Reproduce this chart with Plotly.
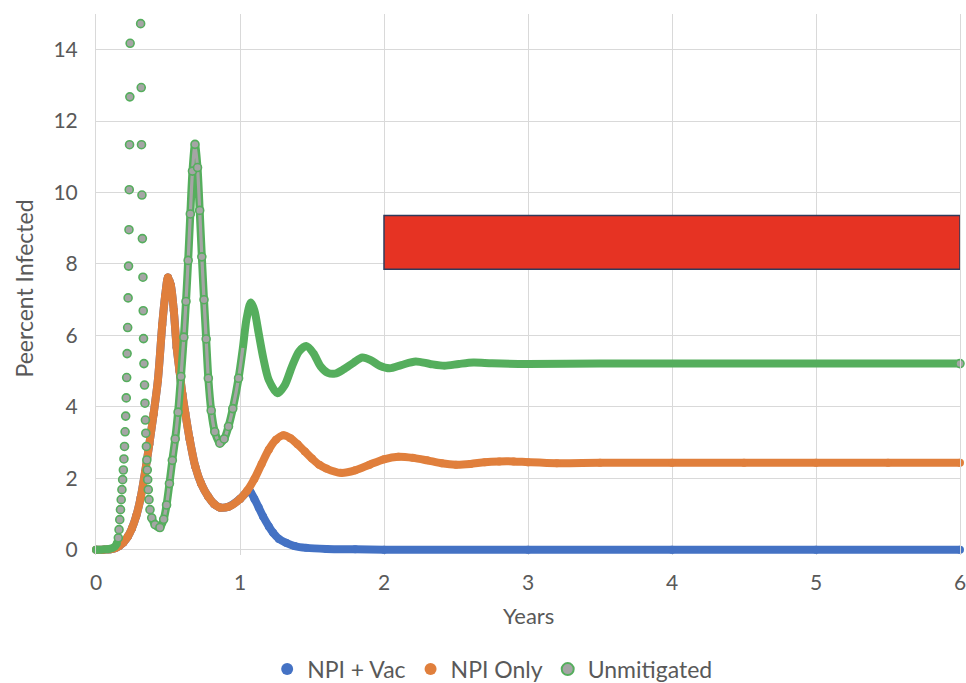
import plotly.graph_objects as go

# ---------------- data ----------------
# NPI + Vac (hidden under NPI Only before ~1.05 years)
vac_x = [0, 0.05, 0.1, 0.13, 0.16, 0.19, 0.22, 0.25, 0.28, 0.31, 0.34, 0.37, 0.40, 0.43, 0.46, 0.48,
         0.50, 0.52, 0.54, 0.56, 0.58, 0.60, 0.62, 0.65, 0.69, 0.73, 0.78, 0.82, 0.86, 0.92, 1.0, 1.05,
         1.07, 1.10, 1.13, 1.16, 1.20, 1.23, 1.27, 1.32, 1.38, 1.46, 1.6, 1.8, 2.0, 3.0, 4.0, 5.0, 6.0]
vac_y = [0, 0, 0.01, 0.04, 0.1, 0.2, 0.36, 0.6, 0.95, 1.45, 2.15, 2.95, 3.8, 4.75, 6.3, 7.1,
         7.62, 7.4, 6.7, 5.67, 5.0, 4.35, 3.83, 3.1, 2.32, 1.85, 1.48, 1.28, 1.18, 1.2, 1.42, 1.62,
         1.63, 1.42, 1.18, 0.93, 0.65, 0.47, 0.3, 0.19, 0.1, 0.05, 0.02, 0.01, 0.0, 0.0, 0.0, 0.0, 0.0]

# NPI Only
npi_x = [0, 0.05, 0.1, 0.13, 0.16, 0.19, 0.22, 0.25, 0.28, 0.31, 0.34, 0.37, 0.40, 0.43, 0.46, 0.48,
         0.50, 0.52, 0.54, 0.56, 0.58, 0.60, 0.62, 0.65, 0.69, 0.73, 0.78, 0.82, 0.86, 0.92, 1.0, 1.05,
         1.10, 1.15, 1.20, 1.25, 1.30, 1.35, 1.40, 1.45, 1.50, 1.55, 1.60, 1.70, 1.80, 1.90, 2.0, 2.1,
         2.2, 2.3, 2.4, 2.5, 2.6, 2.7, 2.8, 2.9, 3.0, 3.2, 3.5, 4.0, 4.5, 5.0, 5.5, 6.0]
npi_y = [0, 0, 0.01, 0.04, 0.1, 0.2, 0.36, 0.6, 0.95, 1.45, 2.15, 2.95, 3.8, 4.75, 6.3, 7.1,
         7.62, 7.4, 6.7, 5.67, 5.0, 4.35, 3.83, 3.1, 2.32, 1.85, 1.48, 1.28, 1.18, 1.2, 1.42, 1.65,
         1.98, 2.4, 2.8, 3.08, 3.2, 3.12, 2.95, 2.75, 2.55, 2.38, 2.27, 2.15, 2.22, 2.38, 2.53, 2.6,
         2.57, 2.5, 2.42, 2.38, 2.4, 2.45, 2.47, 2.47, 2.45, 2.42, 2.43, 2.43, 2.43, 2.43, 2.43, 2.43]

# Unmitigated (first peak goes above the 15% axis limit between ~0.24 and ~0.31 years)
unm_x = [0, 0.03, 0.06, 0.09, 0.11, 0.13, 0.145,
         0.155, 0.160, 0.165, 0.170, 0.175, 0.180, 0.185, 0.190, 0.194, 0.198, 0.202, 0.206, 0.210,
         0.213, 0.216, 0.220, 0.223, 0.226, 0.229, 0.231, 0.233, 0.235, 0.237,
         0.310, 0.314, 0.316, 0.319, 0.322, 0.326, 0.328, 0.330, 0.333, 0.337, 0.340, 0.343, 0.346,
         0.350, 0.353, 0.356, 0.359, 0.363, 0.368, 0.375, 0.387, 0.41, 0.444,
         0.47, 0.49, 0.51, 0.53, 0.55, 0.57, 0.59, 0.61, 0.625, 0.64, 0.655, 0.67, 0.6875, 0.705,
         0.72, 0.735, 0.75, 0.765, 0.78, 0.80, 0.825, 0.86, 0.89, 0.92, 0.95, 0.99,
         1.02, 1.045, 1.075, 1.10, 1.13, 1.16, 1.20, 1.26, 1.31, 1.36, 1.41, 1.46, 1.51, 1.56, 1.61,
         1.66, 1.72, 1.79, 1.85, 1.91, 1.97, 2.04, 2.12, 2.22, 2.32, 2.42, 2.52, 2.62, 2.75, 3.0,
         3.5, 4.0, 4.5, 5.0, 5.5, 6.0]
unm_y = [0, 0, 0.01, 0.02, 0.04, 0.08, 0.18,
         0.33, 0.56, 0.84, 1.12, 1.40, 1.68, 1.96, 2.23, 2.54, 2.89, 3.30, 3.74, 4.25,
         4.82, 5.49, 6.22, 7.05, 7.94, 8.96, 10.08, 11.34, 12.68, 14.18,
         14.73, 12.94, 11.34, 9.93, 8.71, 7.63, 6.69, 5.91, 5.21, 4.61, 4.10, 3.63, 3.26,
         2.89, 2.51, 2.23, 1.96, 1.68, 1.40, 1.12, 0.89, 0.70, 0.62,
         0.85, 1.25, 1.85, 2.5, 3.1, 3.85, 4.85, 5.95, 6.95, 8.1, 9.4, 10.6, 11.35, 10.7,
         9.5, 8.2, 7.0, 5.9, 4.8, 3.9, 3.3, 2.98, 3.1, 3.45, 3.95, 4.8,
         5.65, 6.45, 6.92, 6.7, 6.05, 5.4, 4.75, 4.38, 4.6, 5.12, 5.55, 5.7, 5.5, 5.13, 4.95,
         4.93, 5.05, 5.24, 5.38, 5.3, 5.15, 5.08, 5.17, 5.27, 5.2, 5.15, 5.2, 5.24, 5.22, 5.2,
         5.21, 5.21, 5.21, 5.21, 5.21, 5.21]

# red box drawn over the chart (years, percent)
box_x = [2.0, 6.0]
box_y = [7.85, 9.36]

y_ticks = [0, 2, 4, 6, 8, 10, 12, 14]
x_ticks = [0, 1, 2, 3, 4, 5, 6]

# ---------------- styling ----------------
BLUE = "#4472C4"
ORANGE = "#E07F3C"
GREEN = "#55AE5D"
GREY = "#A5A5A5"
GRID = "#D9D9D9"
FONT = "Lato"
TXT = "#595959"
LW = 8

fig = go.Figure()

def band(x, y, color, name):
    fig.add_trace(go.Scatter(x=x, y=y, mode="lines", line=dict(color=color, width=LW, shape="spline", smoothing=0.8),
                             showlegend=False, hoverinfo="skip"))
    fig.add_trace(go.Scatter(x=x, y=y, mode="markers", name=name,
                             marker=dict(color=color, size=LW, line=dict(width=0)), cliponaxis=False))

band(vac_x, vac_y, BLUE, "NPI + Vac")
band(npi_x, npi_y, ORANGE, "NPI Only")

# Unmitigated: continuous band where points are dense, separate dots on the steep first spike
gap_lo, gap_hi = 0.15, 0.385
lx, ly = [], []
for xv, yv in zip(unm_x, unm_y):
    if gap_lo < xv < gap_hi:
        if lx and lx[-1] is not None:
            lx.append(None); ly.append(None)
        continue
    lx.append(xv); ly.append(yv)
fig.add_trace(go.Scatter(x=lx, y=ly, mode="lines", connectgaps=False,
                         line=dict(color=GREEN, width=LW, shape="spline", smoothing=0.8),
                         showlegend=False, hoverinfo="skip"))
# grey cores of the overlapping dots on the second oscillation
sx = [xv for xv in unm_x if 0.385 <= xv <= 1.02]
sy = [yv for xv, yv in zip(unm_x, unm_y) if 0.385 <= xv <= 1.02]
fig.add_trace(go.Scatter(x=sx, y=sy, mode="lines", line=dict(color=GREY, width=3.2, shape="spline", smoothing=0.8),
                         showlegend=False, hoverinfo="skip"))
# round ends of the green band
fig.add_trace(go.Scatter(x=[unm_x[0], unm_x[6]], y=[unm_y[0], unm_y[6]], mode="markers", showlegend=False,
                         hoverinfo="skip", marker=dict(color=GREEN, size=LW, line=dict(width=0)), cliponaxis=False))
mx = [xv for xv in unm_x if 0.15 <= xv <= 1.0]
my = [yv for xv, yv in zip(unm_x, unm_y) if 0.15 <= xv <= 1.0]
fig.add_trace(go.Scatter(x=mx, y=my, mode="markers", name="Unmitigated",
                         marker=dict(color=GREY, size=8, line=dict(color=GREEN, width=1.6)), cliponaxis=False))
fig.add_trace(go.Scatter(x=[unm_x[-1]], y=[unm_y[-1]], mode="markers", showlegend=False, hoverinfo="skip",
                         marker=dict(color=GREY, size=8, line=dict(color=GREEN, width=1.6)), cliponaxis=False))

fig.add_shape(type="rect", xref="x", yref="y", x0=box_x[0], x1=box_x[1], y0=box_y[0], y1=box_y[1],
              fillcolor="#E63323", line=dict(color="#2F3B5C", width=1.5), layer="above")

fig.add_annotation(text="Years", xref="paper", yref="paper", x=0.5, y=0, yshift=-60,
                   xanchor="center", yanchor="middle", showarrow=False,
                   font=dict(family=FONT, size=22, color=TXT))
fig.add_annotation(text="Peercent Infected", xref="paper", yref="paper", x=0, xshift=-73, y=0.5, yshift=-4,
                   xanchor="center", yanchor="middle", textangle=-90, showarrow=False,
                   font=dict(family=FONT, size=23, color=TXT))

fig.update_layout(
    width=966, height=683,
    margin=dict(l=96, r=6, t=14, b=128, autoexpand=False),
    paper_bgcolor="white", plot_bgcolor="white",
    font=dict(family=FONT, size=21, color=TXT),
    legend=dict(orientation="h", x=0.510, xanchor="center", xref="container", y=-0.211, yanchor="middle",
                font=dict(family=FONT, size=23, color=TXT), itemsizing="constant", itemwidth=30,
                tracegroupgap=0),
    xaxis=dict(range=[0, 6], tickvals=x_ticks, ticktext=[str(v) for v in x_ticks], automargin=False,
               showgrid=True, gridcolor=GRID, gridwidth=1, zeroline=False,
               showline=False, ticks="", ticklabelstandoff=13, ticklabeloverflow="allow",
               tickfont=dict(size=21, color=TXT, family=FONT)),
    yaxis=dict(range=[-0.15, 15], tickvals=y_ticks, ticktext=[str(v) for v in y_ticks], automargin=False,
               showgrid=True, gridcolor=GRID, gridwidth=1, zeroline=False,
               showline=True, mirror=True, linecolor=GRID, linewidth=1, ticks="", ticklabelstandoff=13,
               tickfont=dict(size=21, color=TXT, family=FONT)),
)

# the page would otherwise put the figure 8px in from the corner
fig.write_html("out.html", config={"displayModeBar": False},
               post_script="document.body.style.margin='0';document.body.style.overflow='hidden';")
